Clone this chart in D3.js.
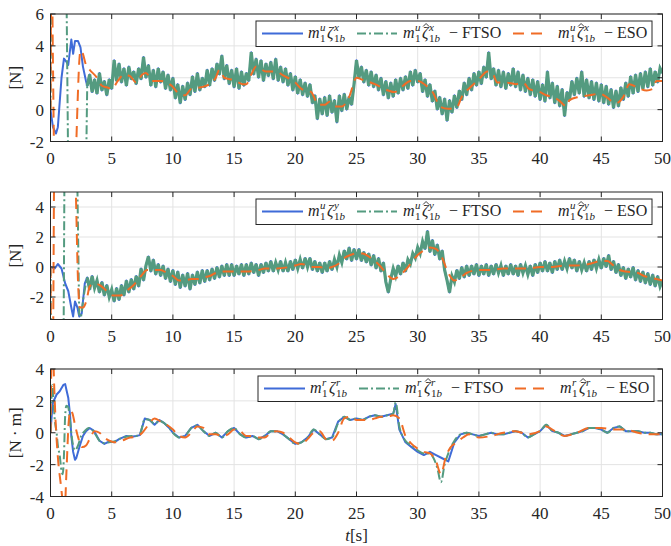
<!DOCTYPE html>
<html>
<head>
<meta charset="utf-8">
<script src="https://cdn.jsdelivr.net/npm/d3@7"></script>
<style>
  body { margin: 0; background: #fff; }
  svg { display: block; }
  svg text { font-family: "Liberation Serif", "Times New Roman", "DejaVu Serif", serif; fill: #262626; }
</style>
</head>
<body>
<svg id="chart" width="671" height="546" font-family="Liberation Serif, Times New Roman, DejaVu Serif, serif"></svg>
<script>
// ---------- axes ----------
const xTicks = [0, 5, 10, 15, 20, 25, 30, 35, 40, 45, 50];
const yTicksSurge = [-2, 0, 2, 4, 6];
const yTicksSway = [-2, 0, 2, 4];
const yTicksYaw = [-4, -2, 0, 2, 4];
const yDomainSurge = [-2, 6];
const yDomainSway = [-3.5, 5];
const yDomainYaw = [-4, 4];

// sampled disturbance records start at 3 s, one value every 0.2 s
const sampleStart = 3.0;
const sampleStep = 0.2;

// ---------- surge force [N] ----------
const surgeTrueStart = [[0,0],[0.2,-1.1],[0.45,-1.5],[0.6,-1.1],[0.9,2.0],[1.1,3.2],[1.3,3.0],[1.45,2.8],[1.7,4.4],[1.85,3.5],[2.0,4.3],[2.25,4.3],[2.45,3.9],[2.65,2.7],[2.9,1.8]];
const surgeFtsoStart = [[0,0],[0.05,8],[1.3,8],[1.45,-4],[2.9,-4]];
const surgeSampled = [
  1.5, 2.2, 1.1, 1.9, 1.0, 2.3, 1.2, 1.8, 0.9, 1.9,
  1.3, 3.1, 1.8, 2.9, 1.7, 2.6, 1.5, 2.7, 1.9, 2.4,
  1.6, 2.6, 1.9, 3.3, 2.0, 2.8, 1.5, 2.5, 1.4, 2.6,
  1.7, 2.4, 1.3, 2.2, 1.2, 2.0, 0.7, 1.6, 0.4, 1.5,
  0.6, 1.7, 0.9, 2.1, 1.1, 2.3, 1.2, 2.0, 1.4, 2.5,
  1.5, 2.6, 1.8, 2.9, 2.2, 3.4, 1.9, 2.8, 1.6, 2.5,
  1.4, 2.6, 1.3, 2.4, 1.5, 2.3, 1.8, 3.6, 2.2, 3.2,
  2.0, 3.1, 1.8, 2.9, 2.1, 3.0, 1.9, 3.2, 1.8, 2.7,
  1.7, 2.6, 1.5, 2.3, 1.2, 2.1, 1.0, 1.9, 0.9, 1.7,
  0.8, 1.6, 0.4, 0.9, -0.6, 0.7, -0.3, 0.8, -0.4, 0.9,
  -0.2, 0.6, -0.8, 0.9, -0.1, 1.0, 0.0, 0.8, 0.3, 1.6,
  3.1, 2.0, 2.7, 1.7, 2.5, 1.5, 2.4, 1.4, 2.2, 1.2,
  2.0, 0.9, 1.8, 0.7, 1.7, 0.8, 1.9, 1.0, 2.0, 1.2,
  2.1, 1.3, 2.4, 1.5, 2.5, 1.7, 2.3, 1.1, 1.9, 0.8,
  1.6, 0.5, 1.2, 0.0, 0.8, -0.3, 0.7, -0.7, 0.6, -0.2,
  0.9, 0.1, 1.2, 0.6, 1.7, 0.9, 2.0, 1.2, 2.3, 1.5,
  2.4, 1.6, 2.7, 2.0, 3.6, 1.9, 2.6, 1.5, 2.5, 1.4,
  2.4, 1.3, 2.3, 1.5, 2.6, 1.4, 2.4, 1.2, 2.2, 1.1,
  2.0, 0.9, 1.9, 0.8, 1.8, 0.6, 1.6, 0.5, 2.4, 0.7,
  1.7, 0.4, 1.5, 0.2, 1.3, -0.4, 1.1, 0.6, 1.8, 0.9,
  2.0, 1.0, 2.4, 0.8, 1.9, 0.7, 1.8, 0.6, 1.7, 0.5,
  1.6, 0.4, 1.5, 0.3, 1.3, 0.1, 1.2, 0.2, 1.4, 0.6,
  1.7, 0.8, 2.1, 1.0, 2.2, 1.1, 2.3, 1.3, 2.4, 1.4,
  2.6, 1.5, 2.4, 1.7, 2.6, 2.3
];
const surgeEso = [[0,0],[0.05,6.8],[0.12,8],[0.2,3],[0.3,-3],[0.5,-6],[1.2,-8],[1.9,-5],[2.1,-2.2],[2.22,0.6],[2.35,3.0],[2.45,3.7],[2.6,3.6],[2.9,2.8],[3.2,2.5],[3.8,2.0],[4.2,1.5],[4.6,1.4],[5.0,1.3],[5.5,1.8],[6.0,2.2],[6.5,2.1],[7.0,1.7],[7.5,2.2],[7.8,2.3],[8.3,1.8],[9.0,1.8],[9.9,1.5],[10.5,1.0],[11.0,0.9],[11.5,1.3],[12.3,1.4],[13.0,1.6],[13.5,2.0],[13.8,2.5],[14.2,2.0],[15.0,1.85],[15.7,1.6],[16.0,1.6],[16.4,2.2],[16.8,2.7],[17.6,2.4],[18.4,2.4],[19.0,2.15],[20.0,1.7],[20.5,1.3],[21.3,1.1],[21.9,0.3],[22.4,0.3],[22.8,0.5],[23.2,0.2],[23.8,0.2],[24.4,0.8],[25.0,2.0],[25.4,1.9],[26.5,1.6],[27.6,1.2],[28.1,1.1],[28.8,1.5],[29.4,1.8],[30.0,1.8],[30.7,1.5],[31.3,1.0],[31.8,0.2],[32.5,0.05],[33.2,0.15],[33.6,0.8],[34.3,1.4],[35.0,1.9],[35.7,2.4],[36.2,2.15],[36.5,1.7],[37.2,1.7],[38.0,1.6],[38.6,1.7],[39.1,1.3],[40.0,1.1],[40.5,0.9],[41.0,0.8],[41.5,0.6],[42.2,0.2],[42.4,0.6],[43.2,0.8],[44.0,0.9],[44.9,1.0],[45.4,0.8],[46.2,0.4],[46.8,0.8],[47.3,1.6],[47.9,1.4],[48.7,1.2],[49.2,1.3],[49.5,1.8],[50.0,1.8]];

// ---------- sway force [N] ----------
const swayTrueStart = [[0,0],[0.35,-0.1],[0.6,0.2],[0.9,-0.1],[1.2,-1.1],[1.45,-1.6],[1.7,-2.7],[1.85,-3.3],[2.0,-2.3],[2.2,-2.7],[2.35,-3.3],[2.55,-3.1],[2.8,-1.1]];
const swayFtsoStart = [[0,0],[0.05,-8],[1.05,-8],[1.15,8],[2.15,8],[2.35,-3.3],[2.5,-3.3],[2.7,-2.0],[2.85,-1.3]];
const swaySampled = [
  -0.7, -1.5, -0.6, -1.4, -0.9, -1.7, -1.0, -1.9, -1.2, -2.0,
  -1.5, -2.3, -1.4, -2.2, -1.2, -1.9, -0.9, -1.7, -0.8, -1.5,
  -0.6, -1.3, -0.1, -0.9, 0.1, 0.7, -0.3, 0.5, -0.5, 0.2,
  -0.6, 0.1, -0.8, -0.1, -1.0, -0.2, -1.2, -0.3, -1.4, -0.5,
  -1.3, -0.4, -1.5, -0.5, -1.2, -0.3, -1.1, -0.2, -1.0, -0.2,
  -0.9, -0.1, -0.8, 0.0, -0.7, 0.1, -0.6, 0.2, -0.6, 0.2,
  -0.6, 0.1, -0.5, 0.2, -0.6, 0.2, -0.5, 0.3, -0.4, 0.2,
  -0.6, 0.2, -0.4, 0.3, -0.3, 0.4, -0.3, 0.3, -0.2, 0.4,
  -0.3, 0.3, -0.3, 0.4, -0.2, 0.5, -0.1, 0.5, -0.1, 0.6,
  0.0, 0.6, -0.2, 0.4, -0.3, 0.3, -0.4, 0.3, -0.3, 0.4,
  -0.2, 0.5, 0.0, 0.8, 0.3, 1.1, 0.5, 1.3, 0.4, 1.2,
  0.5, 1.2, 0.4, 1.0, 0.3, 0.9, 0.1, 0.8, -0.1, 0.6,
  -0.3, 0.3, -1.0, -1.7, -0.8, -0.1, -0.6, 0.1, -0.5, 0.3,
  -0.3, 0.5, 0.2, 0.9, 0.6, 1.3, 0.9, 1.7, 1.2, 2.4,
  1.0, 1.8, 0.8, 1.5, 0.5, 1.1, -0.2, -0.9, -1.7, -0.6,
  -1.0, -0.2, -0.8, 0.0, -0.7, 0.1, -0.6, 0.1, -0.5, 0.2,
  -0.6, 0.1, -0.5, 0.2, -0.6, 0.1, -0.5, 0.2, -0.4, 0.1,
  -0.6, 0.1, -0.5, 0.2, -0.5, 0.1, -0.6, 0.2, -0.4, 0.1,
  -0.5, 0.1, -0.6, 0.2, -0.4, 0.3, -0.3, 0.4, -0.3, 0.3,
  -0.4, 0.4, -0.2, 0.5, -0.2, 0.4, -0.1, 0.6, -0.1, 0.5,
  -0.3, 0.4, -0.2, 0.3, -0.3, 0.4, -0.2, 0.5, -0.1, 0.5,
  -0.1, 0.6, 0.0, 0.8, -0.2, 0.4, -0.4, 0.2, -0.6, 0.0,
  -0.8, -0.1, -0.7, 0.0, -0.9, -0.2, -1.0, -0.3, -1.1, -0.4,
  -1.2, -0.5, -1.3, -0.6, -1.3, -0.9
];
const swayEso = [[0,0],[0.08,-8],[0.2,-6],[0.3,6],[0.5,9],[1.9,8],[2.05,5.5],[2.25,-1],[2.4,-2.7],[2.65,-2.7],[2.95,-2.2],[3.2,-1.3],[3.6,-1.1],[4.0,-1.2],[4.6,-1.6],[5.1,-1.9],[5.7,-1.9],[6.2,-1.6],[6.8,-1.2],[7.4,-0.6],[7.9,-0.2],[8.4,-0.2],[9.0,-0.2],[9.5,-0.4],[10.0,-0.6],[10.5,-0.9],[11.0,-0.9],[11.5,-0.8],[12.0,-0.8],[12.5,-0.7],[13.0,-0.6],[13.5,-0.4],[14.0,-0.3],[15.0,-0.3],[16.0,-0.3],[17.0,-0.2],[17.5,-0.1],[18.5,-0.1],[19.5,0.0],[20.0,0.1],[20.5,0.2],[21.0,0.1],[21.5,0.0],[22.0,0.0],[22.5,-0.1],[23.0,0.0],[23.5,0.2],[24.0,0.6],[24.5,0.8],[25.0,0.9],[25.5,0.9],[26.0,0.7],[26.5,0.4],[27.0,0.0],[27.5,-0.5],[28.0,-0.8],[28.5,-0.6],[29.0,-0.2],[29.5,0.3],[30.0,0.8],[30.5,1.1],[31.0,1.3],[31.5,1.2],[32.0,0.6],[32.5,-0.4],[33.0,-0.9],[33.5,-0.7],[34.0,-0.4],[35.0,-0.2],[36.0,-0.2],[37.0,-0.1],[38.0,-0.1],[39.0,-0.1],[40.0,0.0],[41.0,0.0],[42.0,0.1],[43.0,0.1],[44.0,0.2],[45.0,0.4],[45.5,0.4],[46.0,0.1],[46.5,-0.2],[47.0,-0.3],[48.0,-0.4],[48.5,-0.6],[49.0,-0.7],[49.5,-0.8],[50.0,-0.9]];

// ---------- yaw moment [N·m] ----------
const yawTrue = [[0,0],[0.1,1.1],[0.2,1.9],[0.5,2.4],[0.75,2.6],[1.05,3.0],[1.2,3.05],[1.3,2.7],[1.45,2.2],[1.6,1.1],[1.7,-0.2],[1.85,-1.2],[2.0,-1.7],[2.1,-1.6],[2.4,-0.8],[2.65,-0.2],[2.9,0.1],[3.2,0.3],[3.5,0.15],[3.75,-0.15],[4.0,-0.5],[4.4,-0.7],[4.8,-0.55],[5.2,-0.6],[5.6,-0.4],[6.2,-0.2],[6.6,-0.25],[7.0,-0.2],[7.3,-0.15],[7.7,0.9],[8.1,0.8],[8.5,0.5],[8.9,0.8],[9.3,0.6],[9.7,0.3],[10.0,0.0],[10.5,-0.3],[11.0,-0.2],[11.5,0.3],[12.0,0.5],[12.5,0.1],[13.0,-0.2],[13.5,0.0],[14.0,-0.3],[14.5,0.1],[15.0,0.3],[15.5,-0.1],[16.0,-0.3],[16.5,-0.2],[17.0,-0.4],[17.5,-0.2],[18.0,0.1],[18.5,0.1],[19.0,-0.1],[19.5,-0.4],[20.0,-0.7],[20.5,-0.6],[21.0,-0.3],[21.5,0.2],[22.0,-0.1],[22.5,-0.4],[23.0,-0.3],[23.5,0.7],[24.0,1.0],[24.5,0.8],[25.0,0.9],[25.5,0.8],[26.0,1.0],[26.5,1.1],[27.0,1.0],[27.5,1.1],[28.0,1.2],[28.2,1.8],[28.5,0.2],[29.0,-0.6],[29.5,-0.9],[30.0,-1.2],[30.5,-1.4],[31.0,-1.2],[31.5,-1.4],[32.0,-1.6],[32.5,-1.8],[33.0,-0.6],[33.5,-0.1],[34.0,0.0],[34.5,-0.1],[35.0,-0.2],[35.5,-0.1],[36.0,0.0],[36.5,-0.1],[37.0,-0.1],[37.5,0.0],[38.0,0.1],[38.5,0.0],[39.0,-0.3],[39.5,-0.1],[40.0,0.1],[40.5,0.5],[41.0,0.1],[41.5,0.0],[42.0,-0.2],[42.5,-0.1],[43.0,0.0],[43.5,0.1],[44.0,0.3],[44.5,0.3],[45.0,0.2],[45.5,0.0],[46.0,0.3],[46.5,0.4],[47.0,0.1],[47.5,0.1],[48.0,0.1],[48.5,0.0],[49.0,0.0],[49.5,-0.1],[50.0,-0.1]];
const yawFtso = [[0,0],[0.15,3.0],[0.25,1.9],[0.35,0.8],[0.5,0.0],[0.6,-0.8],[0.75,-1.4],[0.9,-2.4],[1.0,-2.6],[1.1,-1.4],[1.2,1.1],[1.3,1.7],[1.45,1.6],[1.6,0.7],[1.8,-0.6],[2.0,-1.1],[2.25,-0.8],[2.5,-0.2],[2.8,0.1],[3.1,0.3],[3.5,0.1],[3.75,-0.2],[4.0,-0.5],[4.4,-0.65],[4.8,-0.6],[5.2,-0.55],[5.6,-0.4],[6.2,-0.25],[6.6,-0.2],[7.0,-0.2],[7.3,-0.1],[7.7,0.85],[8.1,0.8],[8.5,0.55],[8.9,0.75],[9.3,0.6],[9.7,0.3],[10.0,0.0],[10.5,-0.3],[11.0,-0.2],[11.5,0.3],[12.0,0.45],[12.5,0.1],[13.0,-0.2],[13.5,0.0],[14.0,-0.3],[14.5,0.1],[15.0,0.3],[15.5,-0.1],[16.0,-0.3],[16.5,-0.2],[17.0,-0.4],[17.5,-0.2],[18.0,0.1],[18.5,0.1],[19.0,-0.1],[19.5,-0.4],[20.0,-0.7],[20.5,-0.6],[21.0,-0.3],[21.5,0.2],[22.0,-0.1],[22.5,-0.4],[23.0,-0.3],[23.5,0.6],[24.0,1.0],[24.5,0.8],[25.0,0.9],[25.5,0.8],[26.0,1.0],[26.5,1.1],[27.0,1.0],[27.5,1.1],[28.0,1.2],[28.2,1.9],[28.5,0.4],[29.0,-0.5],[29.5,-0.8],[30.0,-1.1],[30.5,-1.3],[31.0,-1.3],[31.3,-1.6],[31.6,-2.2],[31.9,-3.1],[32.2,-2.0],[32.5,-1.3],[33.0,-0.5],[33.5,-0.1],[34.0,0.0],[34.5,-0.1],[35.0,-0.2],[35.5,-0.1],[36.0,0.0],[36.5,-0.1],[37.0,-0.1],[37.5,0.0],[38.0,0.1],[38.5,0.0],[39.0,-0.3],[39.5,-0.1],[40.0,0.1],[40.5,0.5],[41.0,0.1],[41.5,0.0],[42.0,-0.2],[42.5,-0.1],[43.0,0.0],[43.5,0.1],[44.0,0.3],[44.5,0.3],[45.0,0.2],[45.5,0.0],[46.0,0.3],[46.5,0.4],[47.0,0.1],[47.5,0.1],[48.0,0.1],[48.5,0.0],[49.0,0.0],[49.5,-0.1],[50.0,-0.1]];
const yawEso = [[0,0],[0.08,4.5],[0.18,5.5],[0.3,3.0],[0.4,1.0],[0.6,-1.5],[0.85,-3.3],[1.05,-4.6],[1.15,-5],[1.3,-2.5],[1.5,0.8],[1.65,1.4],[1.8,1.2],[2.0,0.5],[2.3,-0.4],[2.6,-0.9],[2.9,-0.8],[3.2,-0.4],[3.6,0.1],[4.0,0.0],[4.4,-0.3],[4.8,-0.5],[5.2,-0.6],[5.8,-0.5],[6.5,-0.3],[7.0,-0.25],[7.5,0.0],[8.0,0.5],[8.5,0.9],[9.0,0.7],[9.5,0.5],[10.0,0.2],[10.5,-0.2],[11.0,-0.3],[11.5,0.0],[12.0,0.4],[12.5,0.3],[13.0,-0.1],[13.5,-0.1],[14.0,-0.2],[14.5,-0.1],[15.0,0.2],[15.5,0.1],[16.0,-0.2],[16.5,-0.2],[17.0,-0.3],[17.5,-0.3],[18.0,0.0],[18.5,0.1],[19.0,0.0],[19.5,-0.3],[20.0,-0.6],[20.5,-0.7],[21.0,-0.4],[21.5,0.0],[22.0,0.1],[22.5,-0.4],[23.0,-0.5],[23.5,0.0],[24.0,0.9],[24.5,1.0],[25.0,0.8],[25.5,0.8],[26.0,0.8],[26.5,0.9],[27.0,1.0],[27.5,1.0],[28.0,1.1],[28.5,0.9],[29.0,-0.2],[29.5,-0.7],[30.0,-1.0],[30.5,-1.2],[31.0,-1.3],[31.5,-1.8],[31.9,-2.6],[32.3,-1.5],[32.7,-0.9],[33.2,-0.6],[33.7,-0.3],[34.2,-0.1],[35.0,-0.3],[36.0,-0.2],[37.0,0.0],[38.0,0.1],[39.0,-0.1],[40.0,0.1],[40.5,0.4],[41.0,0.2],[42.0,-0.2],[43.0,0.0],[44.0,0.3],[45.0,0.3],[46.0,0.2],[47.0,0.2],[48.0,0.0],[49.0,-0.1],[50.0,-0.1]];

// ---------- styling ----------
const colTrue = "#3f6bd8";
const colFtso = "#549b80";
const colEso = "#f06c26";
const axisCol = "#262626";
const gridCol = "#e3e3e3";
const serif = "Liberation Serif, Times New Roman, DejaVu Serif, serif";
const dashDot = "9,3,2,3";
const dashed = "11,7";

// ---------- helpers ----------
const sampledPairs = arr => arr.map((v, i) => [+(sampleStart + i * sampleStep).toFixed(2), v]);

// FTSO estimates: dash-dot start-up transient, then the dense sampled record
const panels = [
  { top: 14, domain: yDomainSurge, ticks: yTicksSurge, ylabel: "[N]", sup: "u", comp: "x", legendX: 256,
    trueData: surgeTrueStart.concat(sampledPairs(surgeSampled)),
    ftsoStart: surgeFtsoStart.concat(sampledPairs(surgeSampled).slice(0, 1)),
    ftsoDense: sampledPairs(surgeSampled),
    esoData: surgeEso },
  { top: 192, domain: yDomainSway, ticks: yTicksSway, ylabel: "[N]", sup: "u", comp: "y", legendX: 256,
    trueData: swayTrueStart.concat(sampledPairs(swaySampled)),
    ftsoStart: swayFtsoStart.concat(sampledPairs(swaySampled).slice(0, 1)),
    ftsoDense: sampledPairs(swaySampled),
    esoData: swayEso },
  { top: 369, domain: yDomainYaw, ticks: yTicksYaw, ylabel: "[N · m]", sup: "r", comp: "r", legendX: 258,
    trueData: yawTrue, ftsoStart: yawFtso, ftsoDense: null, esoData: yawEso }
];

const svg = d3.select("#chart");
const plotLeft = 50.5, plotRight = 662.5, plotH = 127.5;
const x = d3.scaleLinear().domain([0, 50]).range([plotLeft, plotRight]);

function txt(g) { return g.append("text").attr("font-family", serif); }
function textWidth(sel) { return sel.node().getComputedTextLength(); }

function mathLabel(g, x0, y0, sup, comp, hat, suffix) {
  let cx = x0;
  const m = txt(g).attr("x", cx).attr("y", y0).style("font-size", "16px").style("font-style", "italic").text("m");
  cx += textWidth(m) + 0.5;
  const a = txt(g).attr("x", cx).attr("y", y0 - 7).style("font-size", "11px").style("font-style", "italic").text(sup);
  const b = txt(g).attr("x", cx).attr("y", y0 + 4).style("font-size", "11px").text("1");
  cx += Math.max(textWidth(a), textWidth(b)) + 1.5;
  const z = txt(g).attr("x", cx).attr("y", y0).style("font-size", "16px").style("font-style", "italic").text("ζ");
  const zw = textWidth(z);
  if (hat) {
    const hx = cx + zw * 0.62;
    g.append("path")
      .attr("d", `M${hx - 3},${y0 - 11.5} L${hx},${y0 - 14.5} L${hx + 3},${y0 - 11.5}`)
      .attr("fill", "none").attr("stroke", axisCol).attr("stroke-width", 0.9);
  }
  cx += zw + 0.5;
  const c = txt(g).attr("x", cx).attr("y", y0 - 7).style("font-size", "11px").style("font-style", "italic").text(comp);
  const d = txt(g).attr("x", cx).attr("y", y0 + 4).style("font-size", "11px");
  d.append("tspan").text("1");
  d.append("tspan").style("font-style", "italic").text("b");
  cx += Math.max(textWidth(c), textWidth(d)) + 1;
  if (suffix) {
    txt(g).attr("x", cx + 8).attr("y", y0).style("font-size", "16px").text("\u2212 " + suffix);
  }
}

panels.forEach((p, pi) => {
  const y = d3.scaleLinear().domain(p.domain).range([p.top + plotH, p.top]);
  const g = svg.append("g");

  // grid
  g.append("g").selectAll("line").data(xTicks).join("line")
    .attr("x1", d => x(d)).attr("x2", d => x(d)).attr("y1", p.top).attr("y2", p.top + plotH)
    .attr("stroke", gridCol).attr("stroke-width", 1);
  g.append("g").selectAll("line").data(p.ticks).join("line")
    .attr("x1", plotLeft).attr("x2", plotRight).attr("y1", d => y(d)).attr("y2", d => y(d))
    .attr("stroke", gridCol).attr("stroke-width", 1);

  // data, clipped to the axes box
  const clipId = "clip" + pi;
  svg.append("clipPath").attr("id", clipId).append("rect")
    .attr("x", plotLeft).attr("y", p.top).attr("width", plotRight - plotLeft).attr("height", plotH);
  const dg = g.append("g").attr("clip-path", `url(#${clipId})`);
  const lin = d3.line().x(d => x(d[0])).y(d => y(d[1]));
  const smooth = d3.line().x(d => x(d[0])).y(d => y(d[1])).curve(d3.curveMonotoneX);

  dg.append("path").datum(p.trueData).attr("d", lin)
    .attr("fill", "none").attr("stroke", colTrue).attr("stroke-width", 2).attr("stroke-linejoin", "round");
  dg.append("path").datum(p.ftsoStart).attr("d", p.ftsoDense ? lin : smooth)
    .attr("fill", "none").attr("stroke", colFtso).attr("stroke-width", 2).attr("stroke-linejoin", "round")
    .attr("stroke-dasharray", dashDot);
  if (p.ftsoDense) {
    dg.append("path").datum(p.ftsoDense).attr("d", lin)
      .attr("fill", "none").attr("stroke", colFtso).attr("stroke-width", 3.2).attr("stroke-linejoin", "miter");
  }
  dg.append("path").datum(p.esoData).attr("d", smooth)
    .attr("fill", "none").attr("stroke", colEso).attr("stroke-width", 2)
    .attr("stroke-dasharray", dashed);

  // frame and inward ticks
  g.append("rect").attr("x", plotLeft).attr("y", p.top).attr("width", plotRight - plotLeft).attr("height", plotH)
    .attr("fill", "none").attr("stroke", axisCol).attr("stroke-width", 1);
  const tk = g.append("g").attr("stroke", axisCol).attr("stroke-width", 1);
  xTicks.forEach(t => {
    tk.append("line").attr("x1", x(t)).attr("x2", x(t)).attr("y1", p.top + plotH).attr("y2", p.top + plotH - 5);
    tk.append("line").attr("x1", x(t)).attr("x2", x(t)).attr("y1", p.top).attr("y2", p.top + 5);
  });
  p.ticks.forEach(t => {
    tk.append("line").attr("x1", plotLeft).attr("x2", plotLeft + 5).attr("y1", y(t)).attr("y2", y(t));
    tk.append("line").attr("x1", plotRight).attr("x2", plotRight - 5).attr("y1", y(t)).attr("y2", y(t));
  });

  // tick labels
  g.append("g").selectAll("text").data(xTicks).join("text").attr("font-family", serif)
    .attr("x", d => x(d)).attr("y", p.top + plotH + 22.5).attr("text-anchor", "middle")
    .style("font-size", "17px").text(d => d);
  g.append("g").selectAll("text").data(p.ticks).join("text").attr("font-family", serif)
    .attr("x", 44).attr("y", d => y(d) + 6).attr("text-anchor", "end")
    .style("font-size", "17px").text(d => d);

  // y label
  txt(g).attr("transform", `translate(21,${p.top + plotH / 2}) rotate(-90)`)
    .attr("text-anchor", "middle").style("font-size", "17px").text(p.ylabel);

  // legend
  const L = p.legendX, T = p.top + 7;
  const lg = g.append("g");
  lg.append("rect").attr("x", L).attr("y", T).attr("width", 396).attr("height", 25.5)
    .attr("fill", "#fff").attr("stroke", axisCol).attr("stroke-width", 1);
  const ly = T + 12.5, lb = T + 17;
  lg.append("line").attr("x1", L + 6).attr("x2", L + 47).attr("y1", ly).attr("y2", ly)
    .attr("stroke", colTrue).attr("stroke-width", 2);
  mathLabel(lg, L + 52, lb, p.sup, p.comp, false, null);
  lg.append("line").attr("x1", L + 101).attr("x2", L + 141).attr("y1", ly).attr("y2", ly)
    .attr("stroke", colFtso).attr("stroke-width", 2).attr("stroke-dasharray", dashDot);
  mathLabel(lg, L + 147, lb, p.sup, p.comp, true, "FTSO");
  lg.append("line").attr("x1", L + 257).attr("x2", L + 288).attr("y1", ly).attr("y2", ly)
    .attr("stroke", colEso).attr("stroke-width", 2).attr("stroke-dasharray", dashed);
  mathLabel(lg, L + 302, lb, p.sup, p.comp, true, "ESO");
});

// shared time label
const xl = txt(svg).attr("x", (plotLeft + plotRight) / 2).attr("y", 541)
  .attr("text-anchor", "middle").style("font-size", "17px");
xl.append("tspan").style("font-style", "italic").text("t");
xl.append("tspan").text("[s]");
</script>
</body>
</html>
